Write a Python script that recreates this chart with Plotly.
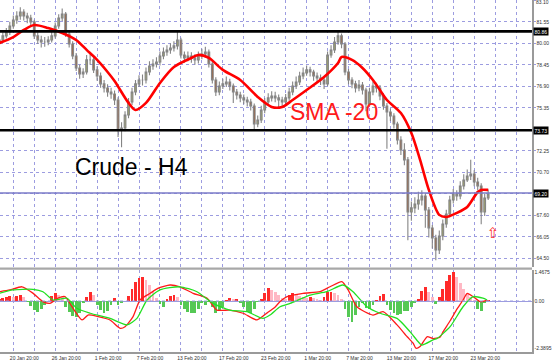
import plotly.graph_objects as go

# ---------------- data ----------------
bars = list(range(141))

open_ = [80.00,80.24,80.53,80.81,81.25,81.68,81.97,82.26,81.97,81.82,
         81.54,80.53,80.24,80.09,80.09,80.24,80.53,81.25,81.82,82.11,
         80.67,79.95,79.08,78.22,77.79,77.93,78.80,78.80,78.08,77.64,
         77.07,76.78,76.49,76.34,75.91,73.75,73.89,74.83,75.77,76.49,
         77.07,77.35,77.35,77.93,78.36,78.51,78.65,79.08,79.37,79.52,
         79.66,79.81,80.24,79.16,78.94,79.08,78.94,78.80,79.08,79.23,
         79.37,78.51,77.35,76.49,76.92,77.07,77.21,76.92,76.49,76.27,
         76.06,75.91,75.77,75.48,74.18,74.47,75.19,75.77,76.06,76.20,
         76.06,75.91,75.77,76.06,76.49,76.92,77.21,77.64,77.86,78.08,
         77.93,77.64,77.50,77.35,77.07,79.16,79.52,80.09,80.53,79.95,
         77.93,77.35,77.07,76.78,76.99,76.63,75.62,76.49,76.92,76.78,
         76.20,75.48,75.05,74.76,74.18,73.03,72.31,71.59,67.84,68.13,
         68.41,68.70,68.99,67.98,66.68,65.96,65.10,66.11,66.97,67.69,
         68.70,69.13,68.99,69.71,70.14,70.43,70.58,70.00,69.71,67.84,
         68.85]

high = [80.55,80.80,81.10,81.55,82.00,82.30,82.60,82.45,82.20,82.05,
        81.70,80.80,80.55,80.45,80.50,80.85,81.50,82.10,82.50,82.25,
        80.90,80.15,79.30,78.45,78.20,79.15,79.20,79.00,78.35,77.90,
        77.35,77.05,76.80,76.60,76.10,74.30,75.10,76.05,76.80,77.35,
        77.70,77.75,78.25,78.70,78.85,79.00,79.40,79.70,79.85,80.00,
        80.15,80.90,80.40,79.40,79.40,79.35,79.20,79.40,79.60,79.75,
        79.55,78.70,77.55,77.25,77.45,77.60,77.45,77.10,76.70,76.50,
        76.30,76.15,76.00,75.65,74.80,75.50,76.05,76.40,76.55,76.50,
        76.30,76.15,76.35,76.80,77.25,77.60,77.95,78.25,78.40,78.30,
        78.10,77.90,77.75,77.55,79.40,79.85,80.45,80.95,80.70,80.10,
        78.15,77.55,77.30,77.35,77.20,76.80,76.80,77.25,77.15,77.00,
        76.40,75.70,75.30,74.95,74.35,73.30,72.80,71.80,68.60,68.90,
        69.30,69.40,69.20,68.20,66.90,66.20,66.50,67.30,68.00,69.00,
        69.50,69.40,70.05,70.55,70.90,71.60,70.85,70.30,69.90,69.15,
        69.45]

low = [79.80,80.05,80.35,80.60,81.05,81.40,81.70,81.65,81.45,81.20,
       80.30,79.95,79.70,79.75,79.85,80.05,80.35,81.05,81.60,80.45,
       79.70,78.85,78.00,77.45,77.50,77.75,78.45,77.85,77.30,76.80,
       76.45,76.15,76.00,75.55,73.25,72.50,73.65,74.60,75.55,76.25,
       76.85,76.95,77.10,77.70,78.10,78.25,78.40,78.85,79.10,79.25,
       79.40,79.55,78.90,78.60,78.70,78.60,78.45,78.55,78.85,78.95,
       78.25,77.10,76.20,76.25,76.70,76.85,76.60,75.70,75.95,75.75,
       75.60,75.45,75.15,73.75,73.95,74.25,74.95,75.55,75.80,75.75,
       75.35,75.45,75.50,75.85,76.25,76.70,77.00,77.40,77.65,77.60,
       77.30,77.15,77.00,76.70,76.90,78.95,79.30,79.90,79.65,77.70,
       77.05,76.75,76.45,76.55,76.30,75.10,75.40,76.25,76.45,75.90,
       75.20,72.40,74.40,73.85,72.70,71.95,71.20,65.80,67.20,67.75,
       68.00,68.30,66.70,66.00,65.20,64.35,64.80,65.80,66.70,67.45,
       68.45,68.65,68.75,69.45,70.00,70.15,69.70,69.40,66.95,67.55,
       68.70]

close = [80.24,80.53,80.81,81.25,81.68,81.97,82.26,81.97,81.82,81.54,
         80.53,80.24,80.09,80.09,80.24,80.53,81.25,81.82,82.11,80.67,
         79.95,79.08,78.22,77.79,77.93,78.80,78.80,78.08,77.64,77.07,
         76.78,76.49,76.34,75.91,73.75,73.89,74.83,75.77,76.49,77.07,
         77.35,77.35,77.93,78.36,78.51,78.65,79.08,79.37,79.52,79.66,
         79.81,80.24,79.16,78.94,79.08,78.94,78.80,79.08,79.23,79.37,
         78.51,77.35,76.49,76.92,77.07,77.21,76.92,76.49,76.27,76.06,
         75.91,75.77,75.48,74.18,74.47,75.19,75.77,76.06,76.20,76.06,
         75.91,75.77,76.06,76.49,76.92,77.21,77.64,77.86,78.08,77.93,
         77.64,77.50,77.35,77.07,79.16,79.52,80.09,80.53,79.95,77.93,
         77.35,77.07,76.78,76.99,76.63,75.62,76.49,76.92,76.78,76.20,
         75.48,75.05,74.76,74.18,73.03,72.31,71.59,67.84,68.13,68.41,
         68.70,68.99,67.98,66.68,65.96,65.10,66.11,66.97,67.69,68.70,
         69.13,68.99,69.71,70.14,70.43,70.58,70.00,69.71,67.84,68.85,
         69.13]

sma_x = [0,4,7,10,14,18,22,25,28,31,33,37,39,42,46,50,55,57,60,64,
         69,74,78,81,84,88,93,97,98,101,104,107,109,111,115,118,120.5,123,126,128,
         131,134,137,138,140]
sma_y = [80.02,80.45,80.96,81.32,81.10,80.74,80.24,79.52,78.80,77.93,
         77.28,75.70,75.19,75.70,77.14,78.29,78.94,79.16,78.94,78.08,
         77.35,76.13,75.41,75.41,75.91,76.63,77.57,78.58,79.01,78.80,
         78.22,77.35,76.63,75.91,74.97,73.53,71.59,69.43,67.63,67.48,
         67.77,68.20,69.28,69.43,69.43]

macd_x = [0,3,6.5,9.6,12.5,14.5,16.8,18.8,20.8,23.7,
          25.4,28.3,31.7,34.6,36,38.3,40.3,43.2,45.4,48.9,
          51.7,55.5,59.5,62.3,66,69.8,73.8,76.7,79,80.4,
          82.4,87,91.8,94.7,98.1,99.9,102.4,107,109.9,113.9,
          116.8,118.5,119.3,120.5,122.5,124.2,126.2,127.1,129.1,131.1,
          132.8,134,135.7,137.7,139.7]
macd_y = [0.47,0.56,0.72,0.40,-0.03,-0.12,0.15,0.22,-0.29,-0.96,
          -0.71,-0.79,-0.96,-1.38,-1.30,-0.79,0.05,0.39,0.64,0.81,
          0.72,0.39,0.14,-0.46,-0.46,-0.62,-0.96,-0.60,-0.30,-0.03,
          0.22,0.39,0.47,0.72,0.98,0.56,-0.29,-0.71,-0.54,-1.21,
          -1.81,-2.13,-2.39,-2.30,-1.81,-1.90,-1.83,-1.55,-1.00,-0.40,
          0.05,0.39,0.22,-0.03,0.05]

signal_x = [0,3.9,9.6,12.5,15.4,19.4,22.2,26,31.7,36.6,
            39.4,42.3,46,51.7,56.6,61.2,66,70.9,75.5,77.5,
            80.4,83.3,89,93.8,98.4,101.3,105.3,109,113.9,117.6,
            119.9,121,124.2,125.4,129.1,132.8,135.7,138.5,139.7]
signal_y = [0.39,0.56,0.59,0.47,0.05,0.14,-0.37,-0.62,-0.88,-1.21,
            -0.88,0.05,0.56,0.72,0.47,-0.12,-0.46,-0.54,-0.88,-0.71,
            -0.29,-0.12,0.30,0.47,0.81,0.47,-0.29,-0.62,-0.88,-1.55,
            -2.05,-2.23,-1.97,-1.89,-1.30,-0.29,0.22,0.14,0.05]

hist = [0.10,0.15,0.20,0.25,0.20,0.25,0.30,0.20,-0.05,-0.25,
        -0.45,-0.55,-0.40,-0.20,0.00,0.25,0.39,0.30,0.20,-0.30,
        -0.55,-0.75,-0.79,-0.60,-0.10,0.20,0.47,0.30,-0.20,-0.45,
        -0.60,-0.50,-0.20,0.15,-0.20,-0.10,0.00,0.25,0.60,0.95,
        1.15,1.23,1.05,0.80,0.50,0.15,-0.15,-0.30,0.10,0.25,
        0.30,0.20,-0.20,-0.40,-0.55,-0.63,-0.60,-0.40,-0.10,-0.20,
        -0.05,-0.30,-0.60,-0.50,-0.30,0.05,0.15,0.10,0.10,-0.10,
        -0.30,-0.55,-0.60,-0.40,-0.05,0.10,0.40,0.64,0.55,0.45,
        0.30,0.15,0.10,0.30,0.39,0.30,0.25,0.20,0.15,0.20,
        0.15,0.10,0.05,0.20,0.45,0.47,0.40,0.30,0.10,-0.40,
        -0.80,-1.05,-0.70,-0.30,-0.10,-0.35,-0.40,-0.20,0.05,0.25,
        0.35,-0.20,-0.45,-0.60,-0.71,-0.65,-0.50,-0.50,-0.30,-0.10,
        0.10,0.50,0.73,0.45,0.20,-0.15,0.20,0.60,1.00,1.30,
        1.4675,1.20,0.90,0.60,0.40,0.20,0.05,-0.40,-0.50,-0.10,
        0.05]

grid_bars = [4,10,16,22,28,34,40,46,52,58,64,70,76,82,88,94,100,106,112,118,124,130,136,142,148]
label_bars = [4,16,28,40,52,64,76,88,100,112,124,136]
x_labels = ["20 Jan 20:00","26 Jan 20:00","1 Feb 20:00","7 Feb 20:00","13 Feb 20:00",
            "17 Feb 20:00","23 Feb 20:00","1 Mar 20:00","7 Mar 20:00","13 Mar 20:00",
            "17 Mar 20:00","23 Mar 20:00"]

price_ticks = [83.10,81.55,80.00,78.45,76.90,75.35,73.80,72.25,70.70,69.15,67.60,66.05,64.50]
price_tick_text = ["","81.55","80.00","78.45","76.90","75.35","","72.25","70.70","","67.60","66.05","64.50"]
top_price_label = "83.10"
levels = [80.86, 73.73, 69.20]
ind_ticks = [1.4675, 0.0, -2.3895]
ind_tick_text = ["1.4675","0.00","-2.3895"]
arrow_x = [141.4]
arrow_y = [66.2]

# ---------------- styling ----------------
GRID = "#9c9ce0"
AXC = "#9a9a9a"
TICKFONT = dict(family="Liberation Sans, Arial, sans-serif", size=5, color="#303030")

x_ticktext = []
for b in grid_bars:
    x_ticktext.append(x_labels[label_bars.index(b)] if b in label_bars else "")

hist_colors = []
for i, v in enumerate(hist):
    prev = hist[i - 1] if i > 0 else 0
    if v > 0:
        hist_colors.append("#ff2a2a" if v >= prev else "#ffb8c4")
    else:
        hist_colors.append("#55c855")

fig = go.Figure()

fig.add_trace(go.Candlestick(
    x=bars, open=open_, high=high, low=low, close=close,
    increasing=dict(line=dict(color="#858585", width=1.1), fillcolor="#a2a66a"),
    decreasing=dict(line=dict(color="#858585", width=1.1), fillcolor="#a0623e"),
    whiskerwidth=0, xaxis="x", yaxis="y", showlegend=False, hoverinfo="skip"))

fig.add_trace(go.Scatter(x=sma_x, y=sma_y, mode="lines",
    line=dict(color="#ff0000", width=2.6, shape="spline", smoothing=0.8),
    xaxis="x", yaxis="y", showlegend=False, hoverinfo="skip"))

fig.add_trace(go.Scatter(x=arrow_x, y=arrow_y, mode="text", text=["⇧"],
    textfont=dict(family="DejaVu Sans", size=15, color="#ff3030"),
    xaxis="x", yaxis="y", showlegend=False, hoverinfo="skip"))

fig.add_trace(go.Bar(x=bars, y=hist, marker=dict(color=hist_colors, line=dict(width=0)),
    width=0.8, xaxis="x", yaxis="y2", showlegend=False, hoverinfo="skip"))

fig.add_trace(go.Scatter(x=macd_x, y=macd_y, mode="lines",
    line=dict(color="#ff1a1a", width=1.3, shape="spline", smoothing=0.6),
    xaxis="x", yaxis="y2", showlegend=False, hoverinfo="skip"))

fig.add_trace(go.Scatter(x=signal_x, y=signal_y, mode="lines",
    line=dict(color="#22e022", width=1.3, shape="spline", smoothing=0.6),
    xaxis="x", yaxis="y2", showlegend=False, hoverinfo="skip"))

W, H = 554, 361
ML, MR, MT, MB = 0, 22, 0, 9
PH = H - MT - MB  # 352

def py(pix):
    return (PH - pix) / PH

shapes = []
for v, col, w in [(80.86, "black", 2.6), (73.73, "black", 2.6), (69.20, "#7b7bc8", 1.6)]:
    shapes.append(dict(type="line", xref="paper", yref="y", x0=0, x1=1, y0=v, y1=v,
                       line=dict(color=col, width=w), layer="above"))
shapes.append(dict(type="line", xref="paper", yref="paper", x0=0, x1=1,
                   y0=py(268.6), y1=py(268.6), line=dict(color="#a8a8a8", width=2.4)))

annotations = []
for v in levels:
    annotations.append(dict(xref="paper", yref="y", x=1, y=v, xanchor="left", yanchor="middle",
                            xshift=1, text=f"{v:.2f}", showarrow=False, bgcolor="black",
                            borderpad=0.5,
                            font=dict(family="Liberation Sans, Arial", size=5, color="white")))
annotations.append(dict(xref="paper", yref="y", x=1, y=price_ticks[0], xanchor="left", yanchor="middle",
                        xshift=2, yshift=-2, text=top_price_label, showarrow=False,
                        font=TICKFONT))
annotations.append(dict(xref="x", yref="y", x=37.85, y=71.08, text="Crude - H4", showarrow=False,
                        xanchor="center", yanchor="middle",
                        font=dict(family="Liberation Sans, Arial", size=23, color="black")))
annotations.append(dict(xref="x", yref="y", x=95.7, y=75.05, text="SMA -20", showarrow=False,
                        xanchor="center", yanchor="middle",
                        font=dict(family="Liberation Sans, Arial", size=23, color="#ff1a1a")))

fig.update_layout(
    width=W, height=H, margin=dict(l=ML, r=MR, t=MT, b=MB),
    paper_bgcolor="white", plot_bgcolor="white",
    bargap=0, showlegend=False,
    shapes=shapes, annotations=annotations,
    xaxis=dict(domain=[0, 1], anchor="y2", range=[0.19, 152.55],
               rangeslider=dict(visible=False),
               tickmode="array", tickvals=grid_bars, ticktext=x_ticktext,
               showgrid=True, gridcolor=GRID, griddash="dot", gridwidth=1,
               showline=True, linecolor=AXC, linewidth=1.5,
               ticks="", tickfont=TICKFONT, ticklabelshift=11, tickangle=0,
               zeroline=False, fixedrange=True),
    yaxis=dict(domain=[py(267), 1], anchor="x", side="right", range=[63.87, 83.12],
               tickmode="array", tickvals=price_ticks, ticktext=price_tick_text,
               showgrid=True, gridcolor=GRID, griddash="dot", gridwidth=1,
               showline=True, linecolor=AXC, linewidth=1.5,
               ticks="outside", ticklen=2, tickcolor=GRID,
               tickfont=TICKFONT, zeroline=False, fixedrange=True),
    yaxis2=dict(domain=[0, py(270)], anchor="x", side="right", range=[-2.581, 1.569],
                tickmode="array", tickvals=ind_ticks, ticktext=ind_tick_text,
                showgrid=False, showline=True, linecolor=AXC, linewidth=1.5,
                ticks="", tickfont=TICKFONT,
                zeroline=True, zerolinecolor=GRID, zerolinewidth=1, fixedrange=True),
)
fig.add_hline(y=0, yref="y2", line=dict(color=GRID, width=1, dash="dot"), layer="above")

fig.write_html("out.html",
               config={"displayModeBar": False, "staticPlot": True},
               post_script="document.body.style.margin='0px';document.body.style.padding='0px';"
                           "document.body.style.overflow='hidden';")
